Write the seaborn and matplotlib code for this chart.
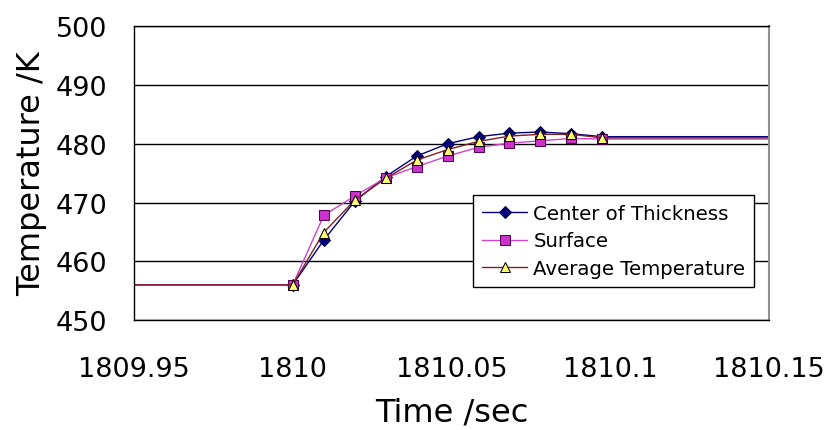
import matplotlib
matplotlib.use("Agg")
import matplotlib.pyplot as plt
import seaborn as sns

# data
time = [1809.95, 1810.0, 1810.00975, 1810.0195, 1810.02925, 1810.039,
        1810.04875, 1810.0585, 1810.06825, 1810.078, 1810.08775,
        1810.0975, 1810.15]
center = [456, 456, 463.6, 470.2, 474.4, 477.9, 480.0, 481.2, 481.8,
          482.0, 481.7, 481.2, 481.2]
surface = [456, 456, 467.8, 471.1, 474.2, 476.1, 477.9, 479.4, 480.1,
           480.5, 480.9, 480.8, 480.8]
average = [456, 456, 464.9, 470.4, 474.1, 477.2, 479.0, 480.4, 481.3,
           481.6, 481.6, 481.0, 481.0]

x_ticks = [1809.95, 1810.0, 1810.05, 1810.1, 1810.15]
x_tick_labels = ["1809.95", "1810", "1810.05", "1810.1", "1810.15"]
y_ticks = [450, 460, 470, 480, 490, 500]

sns.set_theme(style="white")
plt.rcParams["font.family"] = ["DejaVu Sans"]
plt.rcParams["text.color"] = "black"
plt.rcParams["axes.labelcolor"] = "black"
plt.rcParams["xtick.color"] = "black"
plt.rcParams["ytick.color"] = "black"

fig = plt.figure(figsize=(8.27, 4.31), dpi=100)
ax = fig.add_axes([0.162, 0.255, 0.768, 0.682])

marks = slice(1, 12)
sns.lineplot(x=time, y=center, ax=ax, color="#000080", lw=1.0,
             marker="D", markersize=6, markerfacecolor="#000080",
             markeredgecolor="#000040", markevery=marks,
             label="Center of Thickness", sort=False)
sns.lineplot(x=time, y=surface, ax=ax, color="#cc44cc", lw=1.0,
             marker="s", markersize=7, markerfacecolor="#cc33cc",
             markeredgecolor="#500050", markevery=marks,
             label="Surface", sort=False)
sns.lineplot(x=time, y=average, ax=ax, color="#802020", lw=1.0,
             marker="^", markersize=7.5, markerfacecolor="#ffff70",
             markeredgecolor="#000000", markevery=marks,
             label="Average Temperature", sort=False)

ax.set_xlim(1809.95, 1810.15)
ax.set_ylim(450, 500)
ax.set_xticks(x_ticks)
ax.set_xticklabels(x_tick_labels)
ax.set_yticks(y_ticks)

ax.grid(axis="y", color="black", lw=1.0)
ax.grid(axis="x", visible=False)

for side in ["left", "bottom", "top"]:
    ax.spines[side].set_color("black")
    ax.spines[side].set_linewidth(1.0)
ax.spines["right"].set_color("#909090")
ax.spines["right"].set_linewidth(1.5)

ax.tick_params(axis="x", direction="in", length=8, width=1, color="black",
               labelsize=19.5, pad=26)
ax.tick_params(axis="y", length=0, labelsize=19.5, pad=19)

ax.set_xlabel("Time /sec", fontsize=23, labelpad=10)
ax.set_ylabel("Temperature /K", fontsize=23, labelpad=6)

leg = ax.legend(loc="lower left", bbox_to_anchor=(0.534, 0.112),
                borderaxespad=0, fontsize=14.2, frameon=True, fancybox=False,
                framealpha=1, edgecolor="black", handlelength=2.3,
                handletextpad=0.3, borderpad=0.45, labelspacing=0.45,
                numpoints=1)
leg.get_frame().set_linewidth(1.0)

fig.savefig("out.png", dpi=100)
